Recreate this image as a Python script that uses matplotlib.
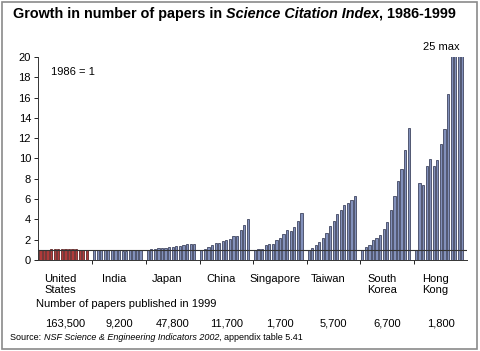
# Growth in number of papers in Science Citation Index, 1986-1999
import matplotlib
matplotlib.use("Agg")
import matplotlib.pyplot as plt
from matplotlib.patches import Rectangle

plt.rcParams['font.family'] = ['Liberation Sans', 'DejaVu Sans']

# Datos (1986 = 1), 14 años por país
paises = ["United\nStates", "India", "Japan", "China", "Singapore", "Taiwan", "South\nKorea", "Hong\nKong"]
articulos_1999 = ["163,500", "9,200", "47,800", "11,700", "1,700", "5,700", "6,700", "1,800"]

usa = [1.0, 1.02, 1.03, 1.05, 1.06, 1.06, 1.07, 1.07, 1.07, 1.06, 1.05, 1.03, 1.0, 1.0]
india = [1.0, 0.95, 0.97, 0.95, 0.97, 0.98, 0.95, 0.95, 0.93, 0.93, 0.95, 0.95, 1.0, 1.02]
japon = [1.0, 1.05, 1.1, 1.15, 1.2, 1.22, 1.25, 1.3, 1.35, 1.4, 1.48, 1.55, 1.6, 1.62]
china = [1.0, 1.05, 1.3, 1.5, 1.7, 1.7, 1.85, 2.0, 2.1, 2.4, 2.4, 3.0, 3.5, 4.0]
singapur = [1.0, 1.05, 1.1, 1.45, 1.55, 1.55, 2.0, 2.2, 2.55, 3.0, 2.85, 3.25, 3.85, 4.6]
taiwan = [1.0, 1.15, 1.5, 1.8, 2.15, 2.7, 3.4, 3.8, 4.5, 4.9, 5.4, 5.6, 5.95, 6.3]
corea = [1.0, 1.3, 1.5, 2.0, 2.2, 2.5, 3.1, 3.7, 4.9, 6.3, 7.8, 9.0, 10.8, 13.0]
hong_kong = [1.0, 7.55, 7.4, 9.25, 9.9, 9.3, 9.85, 11.4, 12.9, 16.3, 20.5, 22.0, 23.5, 25.0]

series = [usa, india, japon, china, singapur, taiwan, corea, hong_kong]

fig = plt.figure(figsize=(4.8, 3.51), dpi=100)
ax = fig.add_axes([0.079, 0.259, 0.894, 0.579])

paso = 15  # 14 barras + 1 hueco por grupo
for g, valores in enumerate(series):
    xs = [g * paso + i for i in range(len(valores))]
    if g == 0:
        cara, borde = '#b03a3a', '#4a1010'
    else:
        cara, borde = '#8290bb', '#252b48'
    ax.bar(xs, valores, width=0.62, color=cara, edgecolor=borde, linewidth=0.5)

# Línea de referencia en 1
ax.axhline(1, color='#333333', linewidth=0.8)

ax.set_xlim(-0.7, 8 * paso - 0.7)
ax.set_ylim(0, 20)
ax.set_yticks(range(0, 21, 2))
ax.set_xticks([14.5 + paso * k for k in range(7)])
ax.set_xticklabels([])
ax.tick_params(axis='y', labelsize=8, length=3, width=0.6, pad=2)
ax.tick_params(axis='x', length=3, width=0.6)
for lado in ['top', 'right']:
    ax.spines[lado].set_visible(False)
for lado in ['left', 'bottom']:
    ax.spines[lado].set_linewidth(0.7)
    ax.spines[lado].set_color('#333333')

ax.text(0.03, 0.925, "1986 = 1", fontsize=8, va='center', transform=ax.transAxes)
ax.text(112, 20.5, "25 max", fontsize=8, ha='center', va='bottom')

# Etiquetas de países y número de artículos
trans = ax.get_xaxis_transform()
for g, nombre in enumerate(paises):
    ax.text(g * paso + 5.5, -0.07, nombre, transform=trans, fontsize=8,
            ha='center', va='top', linespacing=1.05)
    ax.text(g * paso + 7, -0.285, articulos_1999[g], transform=trans, fontsize=8,
            ha='center', va='top')
fig.text(36 / 480, 1 - 304 / 351, "Number of papers published in 1999", fontsize=8, va='center')

# Título
t1 = fig.text(13 / 480, 1 - 14 / 351, "Growth in number of papers in ", fontsize=10.4,
              fontweight='bold', va='center')
t2 = fig.text(0, 0, "Science Citation Index", fontsize=10.4, fontweight='bold',
              fontstyle='italic', va='center')
t3 = fig.text(0, 0, ", 1986-1999", fontsize=10.4, fontweight='bold', va='center')

# Fuente
s1 = fig.text(10 / 480, 1 - 337 / 351, "Source: ", fontsize=6.5, va='center')
s2 = fig.text(0, 0, "NSF Science & Engineering Indicators 2002", fontsize=6.5,
              fontstyle='italic', va='center')
s3 = fig.text(0, 0, ", appendix table 5.41", fontsize=6.5, va='center')

# Colocar los trozos de texto uno detrás de otro
fig.canvas.draw()
r = fig.canvas.get_renderer()
inv = fig.transFigure.inverted()
for a, b in [(t1, t2), (t2, t3), (s1, s2), (s2, s3)]:
    bb = a.get_window_extent(r)
    x1 = inv.transform((bb.x1, 0))[0]
    b.set_position((x1, a.get_position()[1]))
    fig.canvas.draw()

# Marco exterior
fig.patches.append(Rectangle((0.004, 0.005), 0.99, 0.99, transform=fig.transFigure,
                             fill=False, edgecolor='#8a8a8a', linewidth=1.2))

fig.savefig("out.png", dpi=100)
